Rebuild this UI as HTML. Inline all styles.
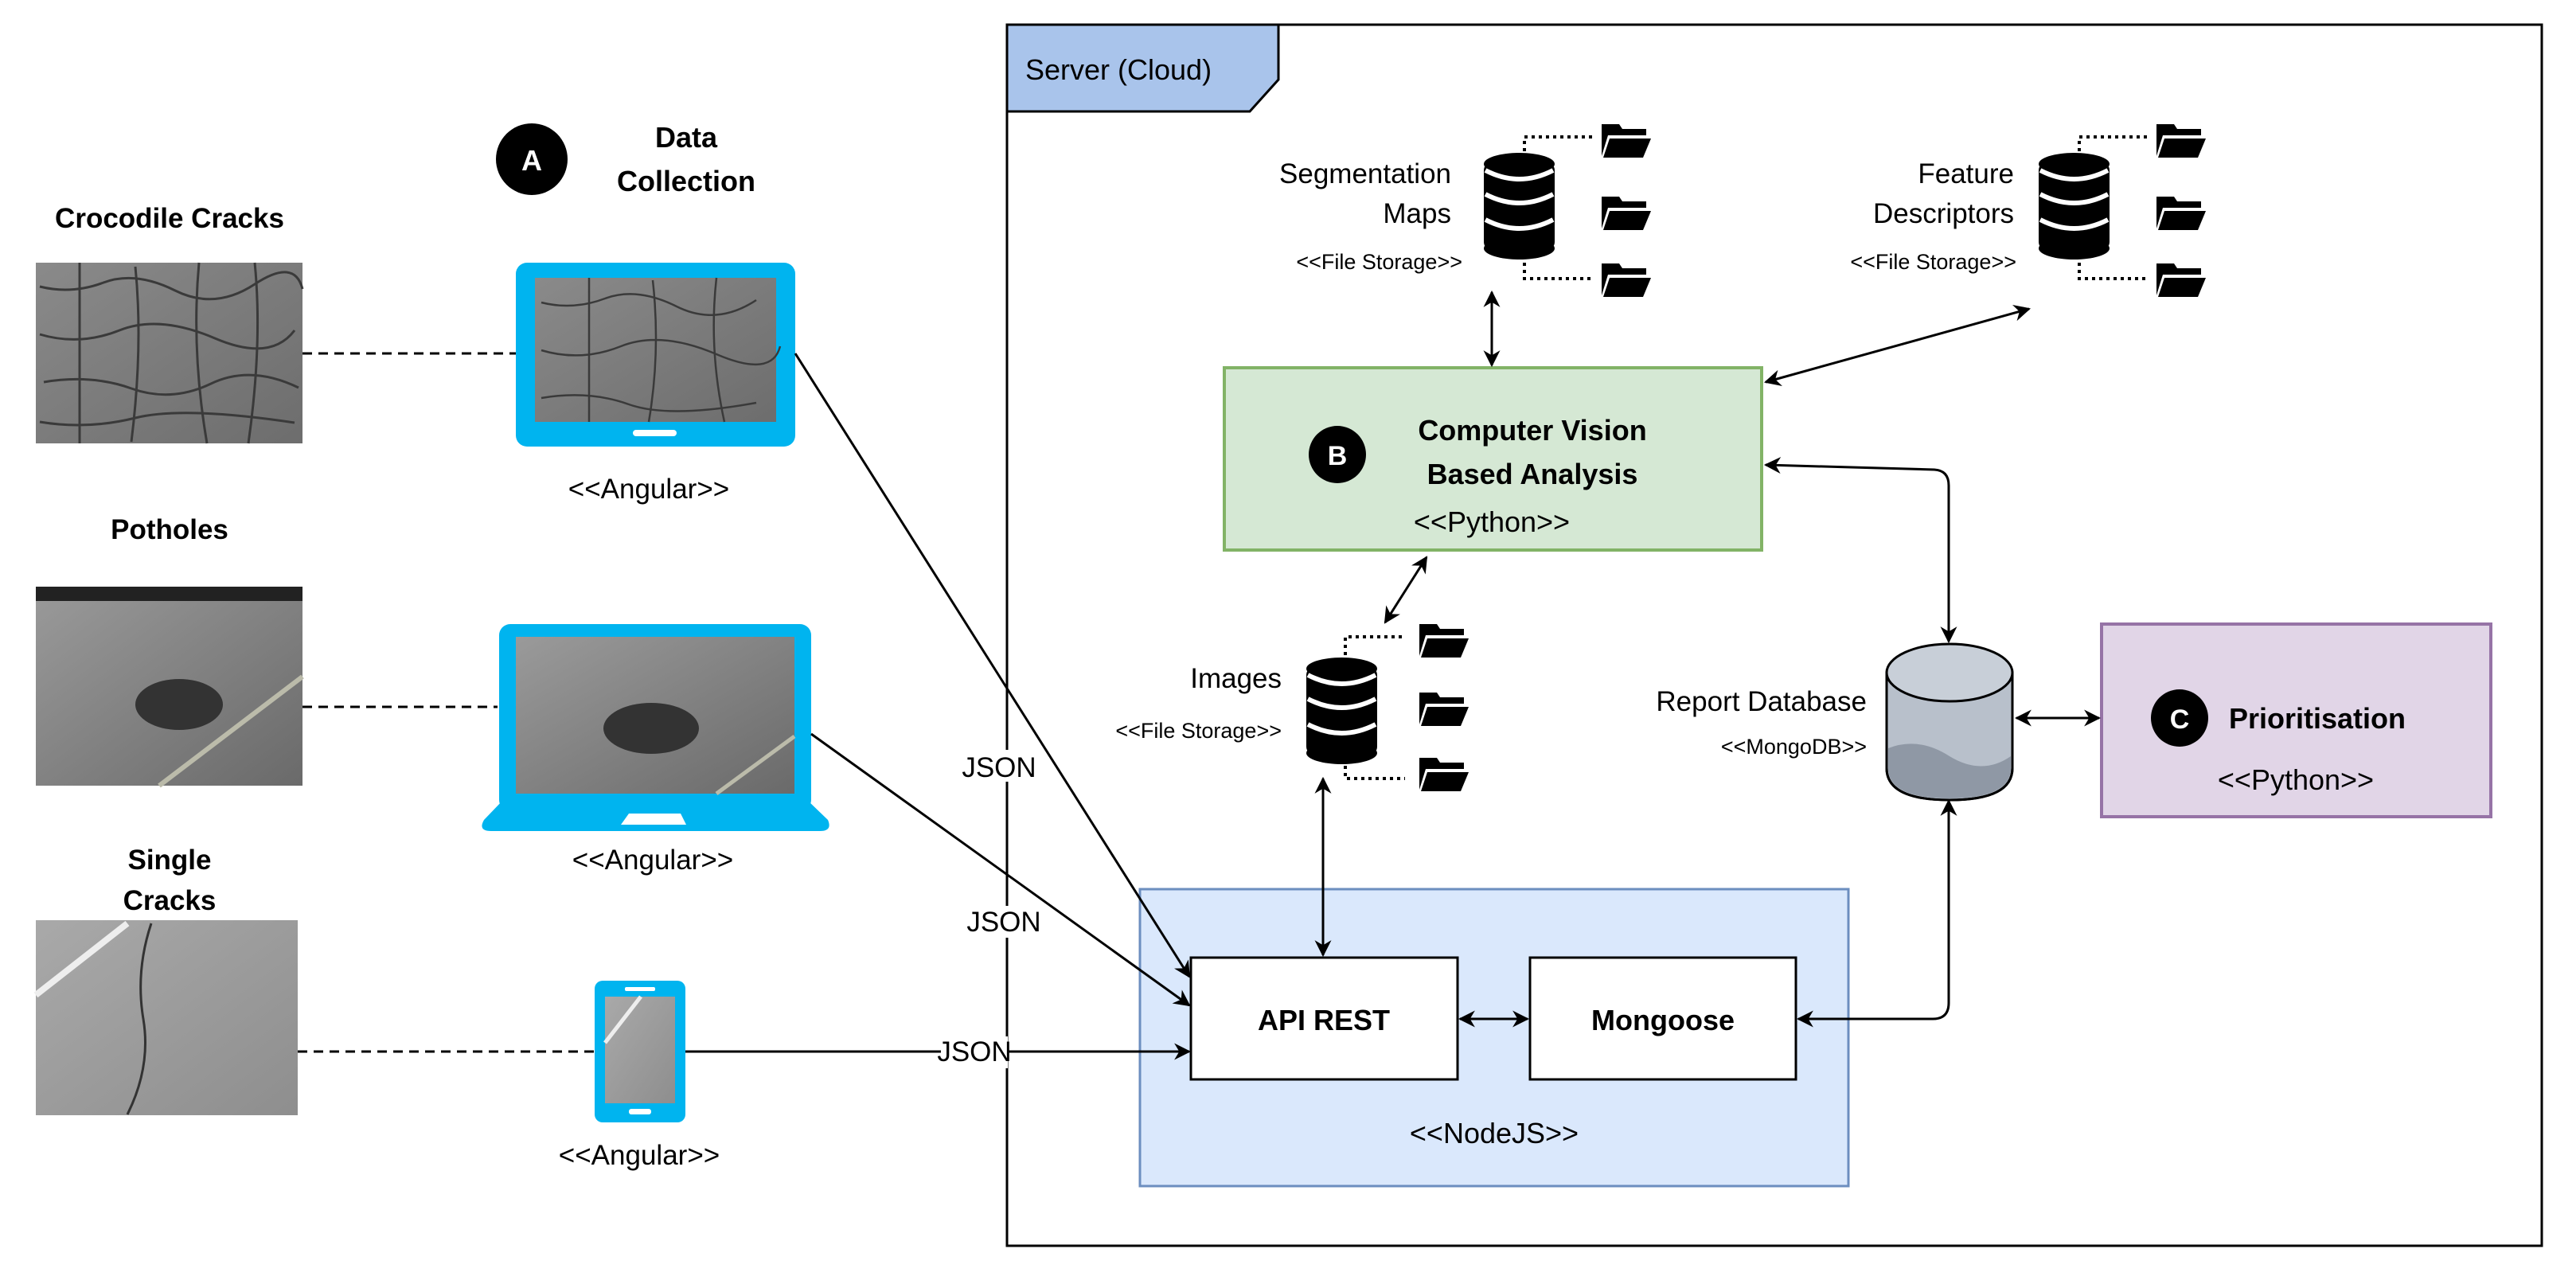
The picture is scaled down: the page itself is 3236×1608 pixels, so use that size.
<!DOCTYPE html>
<html><head><meta charset="utf-8"><style>body{margin:0;background:#fff}svg{display:block}text{font-family:"Liberation Sans",sans-serif}</style></head><body>
<svg width="3236" height="1608" viewBox="0 0 3236 1608" xmlns="http://www.w3.org/2000/svg">
<defs>
<marker id="ah" viewBox="0 0 10 10" refX="9" refY="5" markerWidth="7" markerHeight="7" orient="auto-start-reverse"><path d="M0,0 L10,5 L0,10 L3,5 z" fill="#000"/></marker>
<linearGradient id="g1" x1="0" y1="0" x2="1" y2="1"><stop offset="0" stop-color="#8a8a8a"/><stop offset="1" stop-color="#6d6d6d"/></linearGradient>
<linearGradient id="g2" x1="0" y1="0" x2="1" y2="1"><stop offset="0" stop-color="#9a9a9a"/><stop offset="1" stop-color="#6a6a6a"/></linearGradient>
<linearGradient id="g3" x1="0" y1="0" x2="1" y2="1"><stop offset="0" stop-color="#a9a9a9"/><stop offset="1" stop-color="#8e8e8e"/></linearGradient>
<g id="db"><rect x="0" y="12" width="89" height="110" rx="10" fill="#000"/><ellipse cx="44.5" cy="14" rx="44.5" ry="14" fill="#000"/><ellipse cx="44.5" cy="120" rx="44.5" ry="14" fill="#000"/>
<path d="M2,22 Q44.5,44 87,22 M2,52 Q44.5,74 87,52 M2,84 Q44.5,106 87,84" stroke="#fff" stroke-width="6" fill="none"/></g>
<g id="fold"><path d="M0,4 L22,4 L26,10 L56,10 L56,18 L8,18 L0,44 z" fill="#000"/><path d="M10,22 L62,22 L52,46 L2,46 z" fill="#000"/></g>
</defs>

<rect x="1265" y="31" width="1928" height="1534" fill="#fff" stroke="#000" stroke-width="3"/>
<path d="M1265,31 L1606,31 L1606,100 L1570,140 L1265,140 z" fill="#a9c4eb" stroke="#000" stroke-width="3"/>
<text x="1288" y="100" font-size="36">Server (Cloud)</text>

<text x="213" y="286" font-size="35" font-weight="bold" text-anchor="middle">Crocodile Cracks</text>
<rect x="45" y="330" width="335" height="227" fill="url(#g1)"/>
<path d="M50,360 q40,10 80,-5 t90,10 t100,-8 t60,6 M50,420 q50,15 100,-5 t120,10 t100,-10 M55,480 q60,-10 110,8 t100,-6 t110,5 M50,530 q60,10 120,-5 t200,6 M100,330 v227 M170,335 q10,100 -5,220 M250,330 q-10,110 10,227 M320,330 q10,100 -8,227" stroke="#3a3a3a" stroke-width="3" fill="none"/>
<text x="213" y="677" font-size="35" font-weight="bold" text-anchor="middle">Potholes</text>
<rect x="45" y="737" width="335" height="250" fill="url(#g2)"/>
<rect x="45" y="737" width="335" height="18" fill="#222"/>
<ellipse cx="225" cy="885" rx="55" ry="32" fill="#333"/>
<path d="M200,987 L380,850" stroke="#bba" stroke-width="6"/>
<text x="213" y="1092" font-size="35" font-weight="bold" text-anchor="middle">Single</text>
<text x="213" y="1143" font-size="35" font-weight="bold" text-anchor="middle">Cracks</text>
<rect x="45" y="1156" width="329" height="245" fill="url(#g3)"/>
<path d="M45,1250 L160,1160" stroke="#eee" stroke-width="8"/>
<path d="M190,1160 q-20,60 -10,120 t-20,120" stroke="#333" stroke-width="3" fill="none"/>

<g stroke="#000" stroke-width="3" stroke-dasharray="12,8">
<line x1="380" y1="444" x2="648" y2="444"/><line x1="380" y1="888" x2="625" y2="888"/><line x1="374" y1="1321" x2="747" y2="1321"/></g>

<circle cx="668" cy="200" r="45" fill="#000"/><text x="668" y="214" font-size="36" font-weight="bold" fill="#fff" text-anchor="middle">A</text>
<text x="862" y="185" font-size="36" font-weight="bold" text-anchor="middle">Data</text>
<text x="862" y="240" font-size="36" font-weight="bold" text-anchor="middle">Collection</text>

<!-- laptop1 -->
<rect x="648" y="330" width="351" height="231" rx="14" fill="#00b4ef"/>
<rect x="672" y="349" width="303" height="181" fill="url(#g1)"/>
<path d="M680,380 q40,10 80,-5 t90,10 t100,-8 M680,440 q50,15 100,-5 t120,10 t80,-10 M680,500 q60,-10 110,8 t160,-2 M740,349 v181 M820,352 q10,90 -5,178 M900,349 q-10,90 10,181" stroke="#3a3a3a" stroke-width="2.5" fill="none"/>
<rect x="795" y="540" width="55" height="8" rx="4" fill="#fff"/>
<text x="815" y="626" font-size="35" text-anchor="middle">&lt;&lt;Angular&gt;&gt;</text>
<!-- laptop2 -->
<rect x="627" y="784" width="392" height="235" rx="14" fill="#00b4ef"/>
<rect x="648" y="800" width="350" height="197" fill="url(#g2)"/>
<ellipse cx="818" cy="915" rx="60" ry="32" fill="#333"/>
<path d="M900,997 L998,925" stroke="#bba" stroke-width="5"/>
<path d="M632,1005 L1014,1005 L1040,1030 Q1046,1044 1030,1044 L617,1044 Q600,1044 608,1030 z" fill="#00b4ef"/>
<path d="M790,1022 L855,1022 L862,1036 L780,1036 z" fill="#fff"/>
<text x="820" y="1092" font-size="35" text-anchor="middle">&lt;&lt;Angular&gt;&gt;</text>
<!-- phone -->
<rect x="747" y="1232" width="114" height="178" rx="10" fill="#00b4ef"/>
<rect x="760" y="1252" width="88" height="134" fill="url(#g3)"/>
<path d="M760,1310 L805,1252" stroke="#eee" stroke-width="5"/>
<rect x="785" y="1240" width="38" height="5" rx="2" fill="#fff"/><rect x="790" y="1393" width="28" height="7" rx="3" fill="#fff"/>
<text x="803" y="1463" font-size="35" text-anchor="middle">&lt;&lt;Angular&gt;&gt;</text>

<rect x="1432" y="1117" width="890" height="373" fill="#dae8fc" stroke="#6c8ebf" stroke-width="3"/>
<text x="1877" y="1436" font-size="36" text-anchor="middle">&lt;&lt;NodeJS&gt;&gt;</text>
<rect x="1496" y="1203" width="335" height="153" fill="#fff" stroke="#000" stroke-width="3"/>
<text x="1663" y="1294" font-size="36" font-weight="bold" text-anchor="middle">API REST</text>
<rect x="1922" y="1203" width="334" height="153" fill="#fff" stroke="#000" stroke-width="3"/>
<text x="2089" y="1294" font-size="36" font-weight="bold" text-anchor="middle">Mongoose</text>

<rect x="1538" y="462" width="675" height="229" fill="#d5e8d4" stroke="#82b366" stroke-width="4"/>
<circle cx="1680" cy="571" r="36" fill="#000"/><text x="1680" y="584" font-size="34" font-weight="bold" fill="#fff" text-anchor="middle">B</text>
<text x="1925" y="553" font-size="36" font-weight="bold" text-anchor="middle">Computer Vision</text>
<text x="1925" y="608" font-size="36" font-weight="bold" text-anchor="middle">Based Analysis</text>
<text x="1874" y="668" font-size="36" text-anchor="middle">&lt;&lt;Python&gt;&gt;</text>

<rect x="2640" y="784" width="489" height="242" fill="#e1d5e7" stroke="#9673a6" stroke-width="4"/>
<circle cx="2738" cy="902" r="36" fill="#000"/><text x="2738" y="915" font-size="34" font-weight="bold" fill="#fff" text-anchor="middle">C</text>
<text x="2800" y="915" font-size="36" font-weight="bold">Prioritisation</text>
<text x="2884" y="992" font-size="36" text-anchor="middle">&lt;&lt;Python&gt;&gt;</text>

<path d="M2370,845 L2370,965 Q2370,1005 2449,1005 Q2528,1005 2528,965 L2528,845 z" fill="#b8c0cb" stroke="#000" stroke-width="3"/>
<path d="M2372,940 Q2410,925 2449,950 Q2490,975 2526,950 L2526,965 Q2526,1003 2449,1003 Q2372,1003 2372,965 z" fill="#8f98a5"/>
<ellipse cx="2449" cy="845" rx="79" ry="36" fill="#c8cfd8" stroke="#000" stroke-width="3"/>
<path d="M2370,845 L2370,965 Q2370,1005 2449,1005 Q2528,1005 2528,965 L2528,845" fill="none" stroke="#000" stroke-width="3"/>
<text x="2345" y="893" font-size="35" text-anchor="end">Report Database</text>
<text x="2345" y="947" font-size="27" text-anchor="end">&lt;&lt;MongoDB&gt;&gt;</text>

<use href="#db" x="1864" y="192"/>
<g stroke="#000" stroke-width="4" stroke-dasharray="4,5" fill="none"><path d="M1915,190 V172 H2000"/><path d="M1915,330 V350 H2000"/></g>
<use href="#fold" x="2012" y="152"/><use href="#fold" x="2012" y="243"/><use href="#fold" x="2012" y="327"/>
<text x="1823" y="230" font-size="35" text-anchor="end">Segmentation</text>
<text x="1823" y="280" font-size="35" text-anchor="end">Maps</text>
<text x="1837" y="338" font-size="27" text-anchor="end">&lt;&lt;File Storage&gt;&gt;</text>

<use href="#db" x="2561" y="192"/>
<g stroke="#000" stroke-width="4" stroke-dasharray="4,5" fill="none"><path d="M2612,190 V172 H2697"/><path d="M2612,330 V350 H2697"/></g>
<use href="#fold" x="2709" y="152"/><use href="#fold" x="2709" y="243"/><use href="#fold" x="2709" y="327"/>
<text x="2530" y="230" font-size="35" text-anchor="end">Feature</text>
<text x="2530" y="280" font-size="35" text-anchor="end">Descriptors</text>
<text x="2533" y="338" font-size="27" text-anchor="end">&lt;&lt;File Storage&gt;&gt;</text>

<use href="#db" x="1641" y="826"/>
<g stroke="#000" stroke-width="4" stroke-dasharray="4,5" fill="none"><path d="M1690,823 V800 H1765"/><path d="M1690,962 V978 H1765"/></g>
<use href="#fold" x="1783" y="780"/><use href="#fold" x="1783" y="866"/><use href="#fold" x="1783" y="948"/>
<text x="1610" y="864" font-size="35" text-anchor="end">Images</text>
<text x="1610" y="927" font-size="27" text-anchor="end">&lt;&lt;File Storage&gt;&gt;</text>

<g stroke="#000" stroke-width="3" fill="none">
<line x1="999" y1="444" x2="1494" y2="1227" marker-end="url(#ah)"/>
<line x1="1019" y1="922" x2="1494" y2="1263" marker-end="url(#ah)"/>
<line x1="861" y1="1321" x2="1494" y2="1321" marker-end="url(#ah)"/>
<line x1="1834" y1="1280" x2="1919" y2="1280" marker-start="url(#ah)" marker-end="url(#ah)"/>
<line x1="1662" y1="978" x2="1662" y2="1200" marker-start="url(#ah)" marker-end="url(#ah)"/>
<line x1="1740" y1="782" x2="1792" y2="700" marker-start="url(#ah)" marker-end="url(#ah)"/>
<line x1="1874" y1="367" x2="1874" y2="459" marker-start="url(#ah)" marker-end="url(#ah)"/>
<line x1="2549" y1="388" x2="2218" y2="480" marker-start="url(#ah)" marker-end="url(#ah)"/>
<path d="M2218,584 L2430,590 Q2448,591 2448,610 L2448,806" marker-start="url(#ah)" marker-end="url(#ah)"/>
<path d="M2259,1280 L2428,1280 Q2448,1280 2448,1260 L2448,1006" marker-start="url(#ah)" marker-end="url(#ah)"/>
<line x1="2533" y1="902" x2="2637" y2="902" marker-start="url(#ah)" marker-end="url(#ah)"/>
</g>
<g font-size="35" text-anchor="middle">
<rect x="1215" y="942" width="80" height="40" fill="#fff"/><text x="1255" y="976">JSON</text>
<rect x="1220" y="1138" width="82" height="40" fill="#fff"/><text x="1261" y="1170">JSON</text>
<rect x="1182" y="1302" width="84" height="40" fill="#fff"/><text x="1224" y="1333">JSON</text>
</g>
</svg>
</body></html>
